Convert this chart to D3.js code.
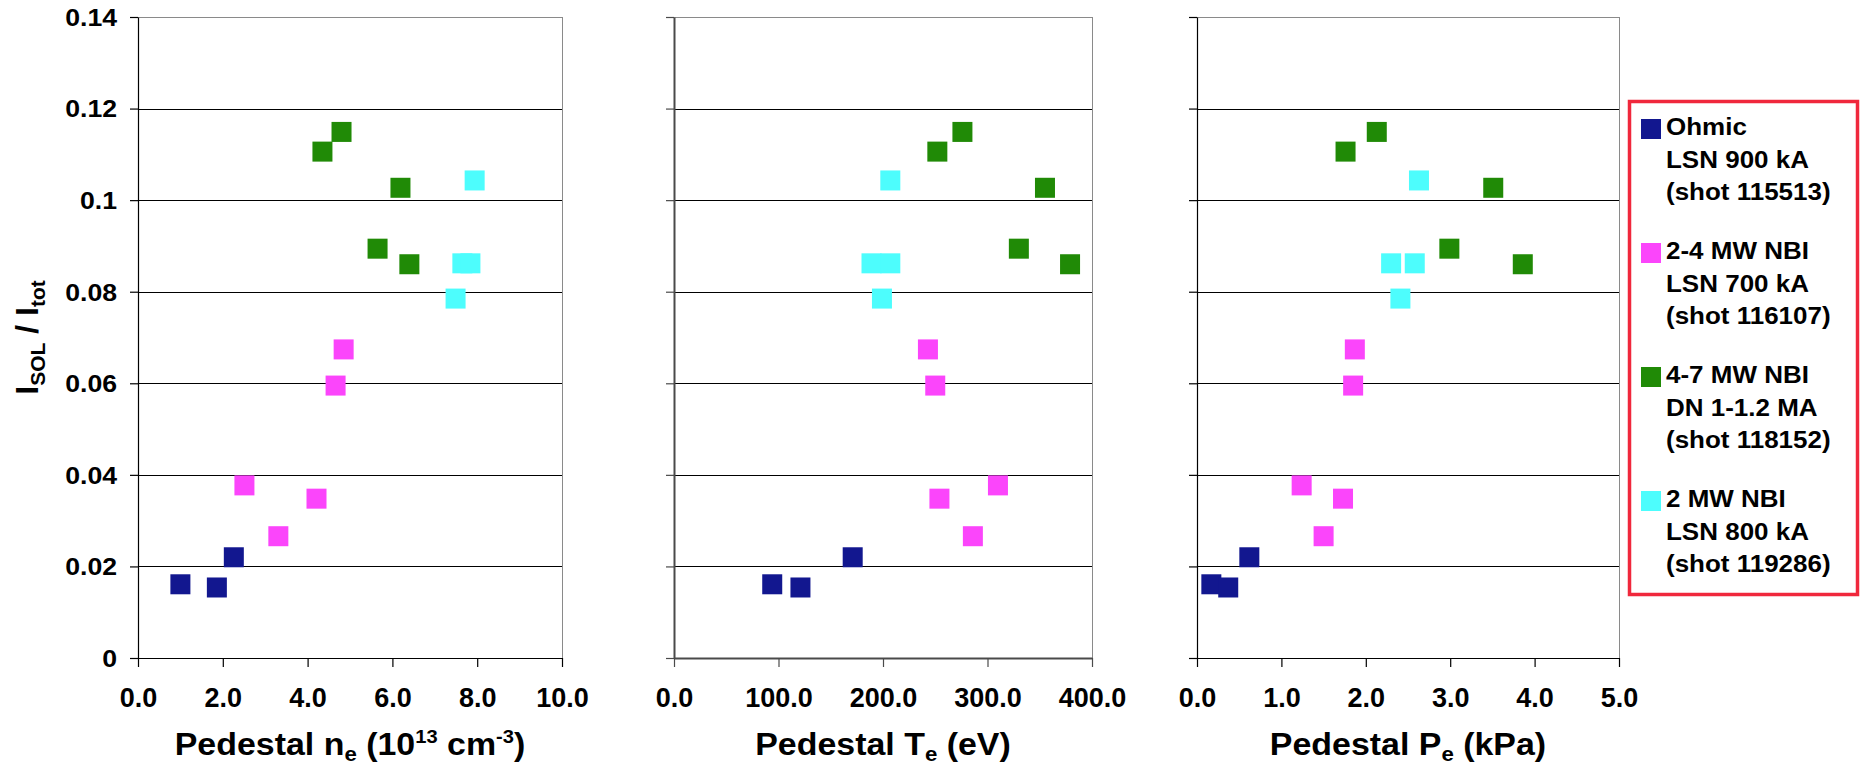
<!DOCTYPE html>
<html>
<head>
<meta charset="utf-8">
<script src="https://cdn.jsdelivr.net/npm/d3@7"></script>
<style>
  html, body { margin: 0; padding: 0; background: #fff; }
  svg { display: block; font-family: "Liberation Sans", Arial, sans-serif; font-weight: bold; }
</style>
</head>
<body>
<svg id="chart" width="1864" height="767"></svg>
<script>
// Scrape-off-layer current fraction vs pedestal parameters, four discharge groups
const seriesNames = ["Ohmic", "2-4 MW NBI", "4-7 MW NBI", "2 MW NBI"];
const seriesLegend = [
  ["Ohmic", "LSN 900 kA", "(shot 115513)"],
  ["2-4 MW NBI", "LSN 700 kA", "(shot 116107)"],
  ["4-7 MW NBI", "DN 1-1.2 MA", "(shot 118152)"],
  ["2 MW NBI", "LSN 800 kA", "(shot 119286)"]
];
const seriesColors = ["#12178f", "#fb45fb", "#208a06", "#4dfdfd"];

// Pedestal density (1e13 cm^-3)
const ohmicNe = [1.00, 1.86, 2.26];
const nbi24Ne = [2.51, 3.31, 4.21, 4.85, 4.66];
const nbi47Ne = [4.35, 4.80, 6.19, 5.65, 6.40];
const nbi2Ne  = [7.94, 7.65, 7.84, 7.49];

// Pedestal temperature (eV)
const ohmicTe = [94, 121, 171];
const nbi24Te = [310, 286, 254, 243, 250];
const nbi47Te = [252, 276, 355, 330, 379];
const nbi2Te  = [207, 189, 207, 199];

// Pedestal pressure (kPa)
const ohmicPe = [0.17, 0.37, 0.62];
const nbi24Pe = [1.24, 1.50, 1.73, 1.87, 1.85];
const nbi47Pe = [1.76, 2.13, 3.51, 2.99, 3.86];
const nbi2Pe  = [2.63, 2.30, 2.58, 2.41];

// I_SOL / I_tot
const ohmicRatio = [0.0161, 0.0154, 0.0220];
const nbi24Ratio = [0.0377, 0.0266, 0.0348, 0.0674, 0.0595];
const nbi47Ratio = [0.1106, 0.1149, 0.1027, 0.0894, 0.0860];
const nbi2Ratio  = [0.1043, 0.0862, 0.0862, 0.0785];

const yTickValues = [0, 0.02, 0.04, 0.06, 0.08, 0.10, 0.12, 0.14];
const yTickLabels = ["0", "0.02", "0.04", "0.06", "0.08", "0.1", "0.12", "0.14"];

const neTicks = [0, 2, 4, 6, 8, 10];
const teTicks = [0, 100, 200, 300, 400];
const peTicks = [0, 1, 2, 3, 4, 5];

const ratioBySeries = [ohmicRatio, nbi24Ratio, nbi47Ratio, nbi2Ratio];

const panels = [
  { domain: [0, 10], range: [138, 562], ticks: neTicks,
    xs: [ohmicNe, nbi24Ne, nbi47Ne, nbi2Ne],
    title: [["Pedestal n", 0], ["e", 1], [" (10", 0], ["13", 2], [" cm", 0], ["-3", 2], [")", 0]],
    axisColor: "#000", axisWidth: 1.2, showY: true },
  { domain: [0, 400], range: [674, 1092], ticks: teTicks,
    xs: [ohmicTe, nbi24Te, nbi47Te, nbi2Te],
    title: [["Pedestal T", 0], ["e", 1], [" (eV)", 0]],
    axisColor: "#4a4a4a", axisWidth: 2, showY: false },
  { domain: [0, 5], range: [1197, 1619], ticks: peTicks,
    xs: [ohmicPe, nbi24Pe, nbi47Pe, nbi2Pe],
    title: [["Pedestal P", 0], ["e", 1], [" (kPa)", 0]],
    axisColor: "#000", axisWidth: 1.2, showY: false }
];

const svg = d3.select("#chart");
const y = d3.scaleLinear().domain([0, 0.14]).range([658, 17]);
const markerSize = 20;
const subShift = 6, supShift = -12;

panels.forEach(p => {
  const x = d3.scaleLinear().domain(p.domain).range(p.range);
  const g = svg.append("g");

  // horizontal gridlines
  g.selectAll("line.grid")
    .data(yTickValues.filter(v => v > 0))
    .join("line")
    .attr("x1", p.range[0]).attr("x2", p.range[1])
    .attr("y1", d => Math.round(y(d)) + 0.5).attr("y2", d => Math.round(y(d)) + 0.5)
    .attr("stroke", d => d >= 0.14 ? "#8a8a8a" : "#000")
    .attr("stroke-width", 1);

  // right frame
  g.append("line")
    .attr("x1", p.range[1] + 0.5).attr("x2", p.range[1] + 0.5)
    .attr("y1", y(0.14)).attr("y2", y(0))
    .attr("stroke", "#8a8a8a").attr("stroke-width", 1);

  // y axis
  const yAxis = d3.axisLeft(y)
    .tickValues(yTickValues)
    .tickSize(8)
    .tickSizeOuter(0)
    .tickFormat((d, i) => p.showY ? yTickLabels[i] : "");
  const ya = g.append("g")
    .attr("transform", `translate(${p.range[0]},0)`)
    .call(yAxis);
  ya.select(".domain").attr("stroke", p.axisColor).attr("stroke-width", p.axisWidth);
  ya.selectAll(".tick line").attr("stroke", p.axisColor).attr("stroke-width", 1.2);
  ya.selectAll(".tick text")
    .attr("font-family", "Liberation Sans, Arial, sans-serif")
    .attr("font-weight", "bold")
    .attr("font-size", 24)
    .attr("fill", "#000")
    .attr("x", -21 / 1.11)
    .attr("dy", "0.35em")
    .attr("transform", "scale(1.11,1)");

  // x axis
  const xAxis = d3.axisBottom(x)
    .tickValues(p.ticks)
    .tickSize(9)
    .tickSizeOuter(0)
    .tickFormat(d3.format(".1f"));
  const xa = g.append("g")
    .attr("transform", `translate(0,${y(0)})`)
    .call(xAxis);
  xa.select(".domain").attr("stroke", p.axisColor).attr("stroke-width", p.axisWidth);
  xa.selectAll(".tick line").attr("stroke", p.axisColor).attr("stroke-width", 1.2);
  xa.selectAll(".tick text")
    .attr("font-family", "Liberation Sans, Arial, sans-serif")
    .attr("font-weight", "bold")
    .attr("font-size", 27)
    .attr("fill", "#000")
    .attr("y", 30)
    .attr("dy", "0.71em");

  // markers
  p.xs.forEach((xsArr, si) => {
    const pts = xsArr.map((v, i) => [v, ratioBySeries[si][i]]);
    g.selectAll(null)
      .data(pts)
      .join("rect")
      .attr("x", d => x(d[0]) - markerSize / 2)
      .attr("y", d => y(d[1]) - markerSize / 2)
      .attr("width", markerSize)
      .attr("height", markerSize)
      .attr("fill", seriesColors[si]);
  });

  // x axis title with sub/superscripts
  const cx = (p.range[0] + p.range[1]) / 2;
  const t = g.append("text")
    .attr("x", cx).attr("y", 755)
    .attr("text-anchor", "middle")
    .attr("font-size", 32)
    .attr("fill", "#000")
    .attr("transform", `translate(${cx},0) scale(1.06,1) translate(${-cx},0)`);
  let offset = 0;
  p.title.forEach(([s, kind]) => {
    const target = kind === 1 ? subShift : kind === 2 ? supShift : 0;
    const ts = t.append("tspan").text(s).attr("dy", target - offset);
    if (kind === 1) ts.attr("font-size", 21);
    if (kind === 2) ts.attr("font-size", 19);
    offset = target;
  });
});

// y axis title
const yt = svg.append("text")
  .attr("transform", `translate(38,${(y(0) + y(0.14)) / 2}) rotate(-90)`)
  .attr("text-anchor", "middle")
  .attr("font-size", 32)
  .attr("fill", "#000");
yt.append("tspan").text("I");
yt.append("tspan").text("SOL").attr("font-size", 21).attr("dy", 7);
yt.append("tspan").text(" / I").attr("dy", -7);
yt.append("tspan").text("tot").attr("font-size", 21).attr("dy", 7);

// legend
const legend = svg.append("g");
legend.append("rect")
  .attr("x", 1629.5).attr("y", 101.5)
  .attr("width", 228).attr("height", 493)
  .attr("fill", "#fff")
  .attr("stroke", "#f0283c").attr("stroke-width", 3.5);

seriesLegend.forEach((lines, i) => {
  const base = 135 + i * 124;
  legend.append("rect")
    .attr("x", 1641).attr("y", base - 16)
    .attr("width", 20).attr("height", 20)
    .attr("fill", seriesColors[i]);
  lines.forEach((ln, j) => {
    legend.append("text")
      .attr("transform", `translate(1666,${base + j * 32.5}) scale(1.13,1)`)
      .attr("font-size", 23)
      .attr("fill", "#000")
      .text(ln);
  });
});
</script>
</body>
</html>
